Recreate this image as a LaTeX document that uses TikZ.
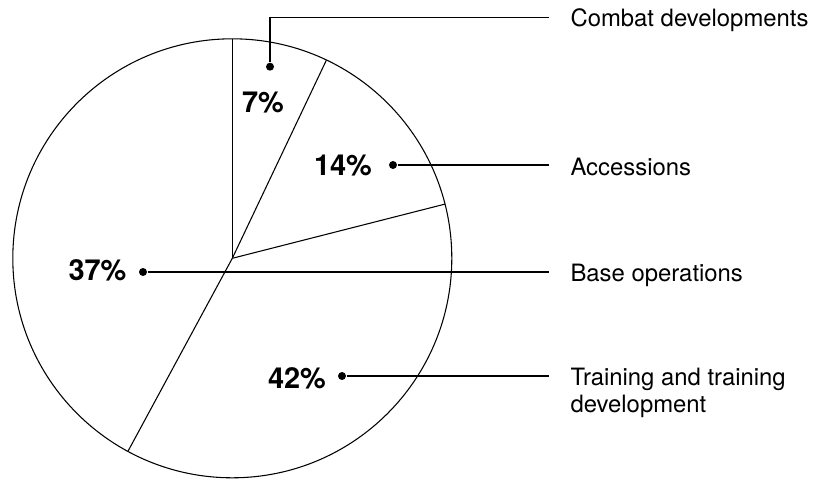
\documentclass[tikz,border=0pt]{standalone}
\usepackage{fontspec}
\setmainfont{TeX Gyre Heros}
\usetikzlibrary{calc}

\begin{document}
\begin{tikzpicture}[x=.75pt,y=-.75pt,line width=.8pt,
  leaddot/.style={circle,fill=black,inner sep=0pt,minimum size=6pt},
  pct/.style={anchor=base,inner sep=0pt,font=\fontsize{21.7}{24}\selectfont\bfseries},
  catlabel/.style={anchor=base west,inner xsep=15.75pt,inner ysep=0pt,align=left,font=\fontsize{17.9}{19.8}\selectfont}]
\useasboundingbox (0,0) rectangle (813,479);
% pie
\coordinate (O) at (232.3,258.3);
\draw (O) circle[radius=219.5];
\foreach \a in {90,64.6,14.3,-118.4}
  \draw (O) -- ++(-\a:219.5);
% percentages
\node[pct] (p7) at (263,112.7) {7\%};
\node[pct] (p14) at (343,175) {14\%};
\node[pct] (p37) at (97.5,280.7) {37\%};
\node[pct] (p42) at (297,388) {42\%};
% dots
\node[leaddot] (d7) at (270,66.7) {};
\node[leaddot] (d14) at (393,165) {};
\node[leaddot] (d37) at (143,272) {};
\node[leaddot] (d42) at (342,376) {};
% labels (base of the two-line one is its last line)
\node[catlabel] (lcomb) at (549,26.5) {Combat developments};
\node[catlabel] (lacc) at (549,175) {Accessions};
\node[catlabel] (lbase) at (549,281.7) {Base operations};
\node[catlabel] (ltrain) at (549,412) {Training and training\\development};
% leaders
\draw (d7) |- ($(lcomb.base west)+(0,-8.7)$);
\draw (d14) -- (d14 -| lacc.west);
\draw (d37) -- (d37 -| lbase.west);
\draw (d42) -- (d42 -| ltrain.west);
\end{tikzpicture}
\end{document}
